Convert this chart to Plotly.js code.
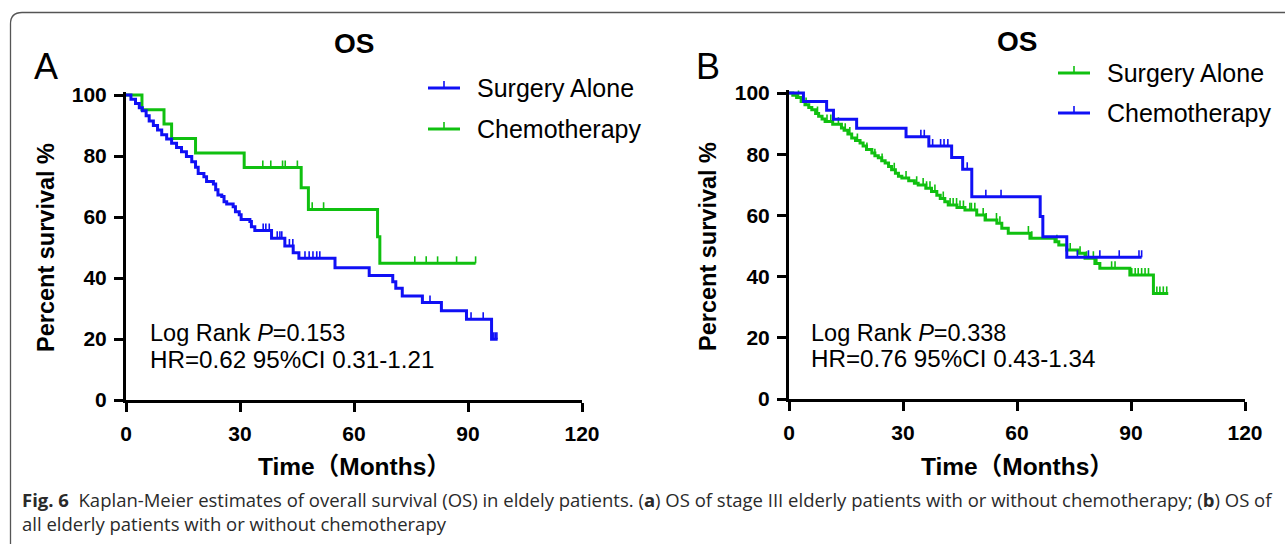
<!DOCTYPE html>
<html>
<head>
<meta charset="utf-8">
<script src="https://cdn.plot.ly/plotly-3.0.1.min.js"></script>
<style>
html,body{margin:0;padding:0;background:#fff;}
#chart{width:1285px;height:544px;}
</style>
</head>
<body>
<div id="chart"></div>
<script>
// ---------------- DATA ----------------
// Panel A: stage III elderly patients
const aSurgT = [1.3, 2.5, 3.5, 4.3, 5.3, 6.1, 7.2, 8.3, 9.4, 10.7, 12.0, 13.3, 14.6, 15.9, 17.3, 18.3, 19.0, 20.5, 21.2, 23.0, 23.6, 24.2, 25.2, 25.8, 26.5, 28.2, 28.8, 29.8, 30.3, 32.6, 33.0, 33.9, 38.3, 41.8, 44.0, 45.5, 55.0, 64.0, 70.2, 71.0, 72.7, 78.0, 83.0, 89.6, 96.2];
const aSurgS = [98.6, 97.2, 95.8, 94.8, 93.2, 91.5, 90.0, 88.5, 87.0, 85.6, 84.2, 82.8, 81.4, 79.8, 78.1, 76.3, 74.3, 73.2, 71.6, 70.8, 68.9, 67.2, 66.7, 65.0, 64.3, 63.4, 61.7, 60.7, 59.2, 58.5, 56.8, 55.6, 53.0, 50.5, 48.3, 46.5, 43.4, 40.8, 38.8, 36.6, 34.1, 32.0, 29.3, 26.5, 19.9];
const aSurgEnd = 97.8;
const aSurgCens = [36.1, 36.8, 37.7, 39.8, 40.5, 41.0, 43.0, 43.9, 47.1, 48.2, 49.2, 50.2, 51.0, 80.0, 90.8, 94.0, 96.8, 97.2, 97.6];

const aChemoT = [4.2, 10.0, 12.0, 18.3, 31.1, 46.1, 48.0, 66.2, 66.8];
const aChemoS = [95.2, 90.5, 85.7, 81.0, 76.2, 69.6, 62.5, 53.5, 44.8];
const aChemoEnd = 92.0;
const aChemoCens = [36.0, 38.1, 41.2, 41.9, 45.1, 49.0, 52.0, 76.0, 79.0, 82.0, 87.0, 92.0];

// Panel B: all elderly patients
const bSurgT = [1.0, 2.0, 3.2, 4.2, 5.2, 6.0, 7.0, 7.8, 8.7, 9.5, 11.5, 13.8, 14.5, 15.5, 16.5, 17.5, 18.7, 19.5, 20.4, 21.8, 22.6, 23.5, 24.4, 25.3, 26.2, 27.0, 28.0, 28.8, 29.7, 31.5, 33.0, 34.0, 36.0, 37.5, 38.9, 39.8, 41.0, 41.9, 44.2, 46.3, 49.4, 51.6, 54.7, 56.0, 57.7, 63.4, 70.0, 71.0, 73.1, 76.1, 77.9, 80.5, 81.8, 89.7, 95.9];
const bSurgS = [99.3, 98.5, 97.2, 96.2, 95.3, 94.5, 93.3, 92.4, 91.5, 90.7, 89.8, 88.6, 87.8, 86.6, 85.3, 84.5, 83.7, 82.7, 81.5, 80.4, 79.5, 78.8, 77.9, 77.1, 76.0, 74.9, 73.8, 72.8, 72.2, 71.3, 70.5, 69.9, 68.9, 67.8, 66.6, 65.5, 64.5, 63.4, 62.6, 61.8, 60.1, 58.5, 57.4, 55.8, 54.2, 52.5, 51.4, 50.3, 48.7, 47.6, 46.0, 44.3, 42.7, 40.5, 34.5];
const bSurgEnd = 99.8;
const bSurgCens = [2.5, 4.5, 7.5, 10.0, 11.0, 13.0, 14.8, 16.0, 18.0, 20.5, 22.6, 24.5, 27.7, 30.8, 33.6, 35.3, 36.2, 37.1, 38.4, 40.6, 42.4, 43.2, 44.1, 45.0, 45.9, 47.6, 48.0, 48.9, 51.1, 51.9, 54.6, 55.5, 63.0, 63.9, 70.5, 74.0, 76.6, 78.3, 80.1, 81.0, 84.9, 85.8, 90.2, 91.1, 91.9, 92.8, 93.7, 94.6, 96.8, 97.6, 98.5, 99.4];

const bChemoT = [3.8, 9.9, 11.7, 17.8, 30.8, 36.8, 42.8, 45.7, 48.1, 66.1, 66.8, 73.1];
const bChemoS = [97.2, 94.4, 91.4, 88.5, 85.7, 82.7, 78.9, 75.1, 66.1, 59.6, 53.0, 46.3];
const bChemoEnd = 92.8;
const bChemoCens = [34.7, 35.6, 37.8, 39.9, 40.8, 41.8, 46.9, 51.8, 55.8, 75.9, 78.8, 81.8, 86.9, 92.1, 92.8];

const xTicks = [0, 30, 60, 90, 120];
const yTicks = [0, 20, 40, 60, 80, 100];
const names = ["Surgery Alone", "Chemotherapy"];

// ---------------- STYLE ----------------
const W = 1285, H = 544;
const BLUE = '#1010f5', GREEN = '#10c010';
const px = x => x / W;
const py = y => 1 - y / H;
const AX_FONT = 'Liberation Sans, Arial, sans-serif';
const CJK_FONT = 'Liberation Sans, Noto Sans CJK SC, sans-serif';

function stepTrace(T, S, end, color, xa, ya) {
  const x = [0].concat(T, [end]);
  const y = [100].concat(S, [S[S.length - 1]]);
  return {x, y, xaxis: xa, yaxis: ya, type: 'scatter', mode: 'lines',
    line: {color, width: 3, shape: 'hv'}, hoverinfo: 'skip', showlegend: false};
}
function levelAt(T, S, t) {
  let v = 100;
  for (let i = 0; i < T.length; i++) { if (T[i] <= t) v = S[i]; }
  return v;
}
function censTrace(T, S, C, color, xa, ya) {
  const x = [], y = [];
  C.forEach(t => { const v = levelAt(T, S, t); x.push(t, t, null); y.push(v, v + 2.3, null); });
  return {x, y, xaxis: xa, yaxis: ya, type: 'scatter', mode: 'lines',
    line: {color, width: 1.6}, hoverinfo: 'skip', showlegend: false};
}

const data = [
  stepTrace(aChemoT, aChemoS, aChemoEnd, GREEN, 'x', 'y'),
  censTrace(aChemoT, aChemoS, aChemoCens, GREEN, 'x', 'y'),
  stepTrace(aSurgT, aSurgS, aSurgEnd, BLUE, 'x', 'y'),
  censTrace(aSurgT, aSurgS, aSurgCens, BLUE, 'x', 'y'),
  stepTrace(bSurgT, bSurgS, bSurgEnd, GREEN, 'x2', 'y2'),
  censTrace(bSurgT, bSurgS, bSurgCens, GREEN, 'x2', 'y2'),
  stepTrace(bChemoT, bChemoS, bChemoEnd, BLUE, 'x2', 'y2'),
  censTrace(bChemoT, bChemoS, bChemoCens, BLUE, 'x2', 'y2')
];

function xAxis(x0, x1) {
  return {domain: [px(x0), px(x1)], range: [0, 120], tickvals: xTicks, ticktext: xTicks.map(String),
    showgrid: false, zeroline: false, showline: true, linecolor: '#000', linewidth: 3,
    ticks: 'outside', ticklen: 9, tickwidth: 3, tickcolor: '#000',
    tickfont: {family: AX_FONT, size: 21, color: '#000', weight: 'bold'}, ticklabelstandoff: 4,
    fixedrange: true};
}
function yAxis(yBot, yTop, anchor) {
  // top of domain a bit above the 100 tick so the curves at 100 are not clipped
  const top = yTop - 3.5;
  const rangeTop = 100 * (yBot - top) / (yBot - yTop);
  return {domain: [py(yBot), py(top)], range: [0, rangeTop], tickvals: yTicks, ticktext: yTicks.map(String),
    anchor, showgrid: false, zeroline: false, showline: true, linecolor: '#000', linewidth: 3,
    ticks: 'outside', ticklen: 9, tickwidth: 3, tickcolor: '#000',
    tickfont: {family: AX_FONT, size: 21, color: '#000', weight: 'bold'}, ticklabelstandoff: 3,
    fixedrange: true};
}

const ann = [];
const shapes = [];
function txt(x, y, text, size, opts) {
  ann.push(Object.assign({xref: 'paper', yref: 'paper', x: px(x), y: py(y), text, showarrow: false,
    xanchor: 'left', yanchor: 'middle', font: {family: AX_FONT, size, color: '#000'}}, opts || {}));
}
function legendItem(x0, y, color, label) {
  shapes.push({type: 'line', xref: 'paper', yref: 'paper', x0: px(x0), x1: px(x0 + 32), y0: py(y), y1: py(y),
    line: {color, width: 3}});
  shapes.push({type: 'line', xref: 'paper', yref: 'paper', x0: px(x0 + 16), x1: px(x0 + 16), y0: py(y), y1: py(y - 7),
    line: {color, width: 1.6}});
  txt(x0 + 47, y, label, 25);
}

// Panel A texts
txt(46, 66, 'A', 36, {xanchor: 'center'});
txt(354, 43, '<b>OS</b>', 28, {xanchor: 'center'});
txt(46, 248, '<b>Percent survival %</b>', 23.5, {xanchor: 'center', textangle: -90});
txt(354, 466, '<b>Time（Months）</b>', 24.5, {xanchor: 'center', font: {family: CJK_FONT, size: 24.5, color: '#000'}});
legendItem(428, 88, BLUE, names[0]);
legendItem(428, 129, GREEN, names[1]);
txt(148, 333, 'Log Rank <i>P</i>=0.153', 23.5);
txt(148, 359, 'HR=0.62 95%CI 0.31-1.21', 24.2);

// Panel B texts
txt(708, 66, 'B', 36, {xanchor: 'center'});
txt(1017, 42, '<b>OS</b>', 28, {xanchor: 'center'});
txt(708, 247, '<b>Percent survival %</b>', 23.5, {xanchor: 'center', textangle: -90});
txt(1017, 466, '<b>Time（Months）</b>', 24.5, {xanchor: 'center', font: {family: CJK_FONT, size: 24.5, color: '#000'}});
legendItem(1058, 73, GREEN, names[0]);
legendItem(1058, 113, BLUE, names[1]);
txt(809, 333, 'Log Rank <i>P</i>=0.338', 23.5);
txt(809, 358, 'HR=0.76 95%CI 0.43-1.34', 24.2);

// Caption
const CAP = 'Open Sans, Noto Sans, sans-serif';
txt(20, 499, '<b>Fig. 6</b>  Kaplan-Meier estimates of overall survival (OS) in eldely patients. (<b>a</b>) OS of stage III elderly patients with or without chemotherapy; (<b>b</b>) OS of', 18.5,
  {font: {family: CAP, size: 18.5, color: '#2a2a2a'}});
txt(20, 523, 'all elderly patients with or without chemotherapy', 18.5, {font: {family: CAP, size: 18.5, color: '#2a2a2a'}});

// Frame (rounded corner, cut by the image edges)
shapes.push({type: 'path', xref: 'paper', yref: 'paper', layer: 'below',
  path: `M ${px(10.5)},${py(560)} L ${px(10.5)},${py(24)} Q ${px(10.5)},${py(12.5)} ${px(22)},${py(12.5)} L ${px(1300)},${py(12.5)}`,
  line: {color: '#555', width: 1.3}});

const layout = {
  width: W, height: H, margin: {l: 0, r: 0, t: 0, b: 0},
  paper_bgcolor: '#fff', plot_bgcolor: 'rgba(0,0,0,0)', showlegend: false,
  xaxis: Object.assign(xAxis(126, 582), {anchor: 'y'}),
  yaxis: yAxis(400, 95, 'x'),
  xaxis2: Object.assign(xAxis(789, 1245), {anchor: 'y2'}),
  yaxis2: yAxis(399, 93, 'x2'),
  annotations: ann, shapes: shapes
};

Plotly.newPlot('chart', data, layout, {staticPlot: true, displayModeBar: false});
</script>
</body>
</html>
